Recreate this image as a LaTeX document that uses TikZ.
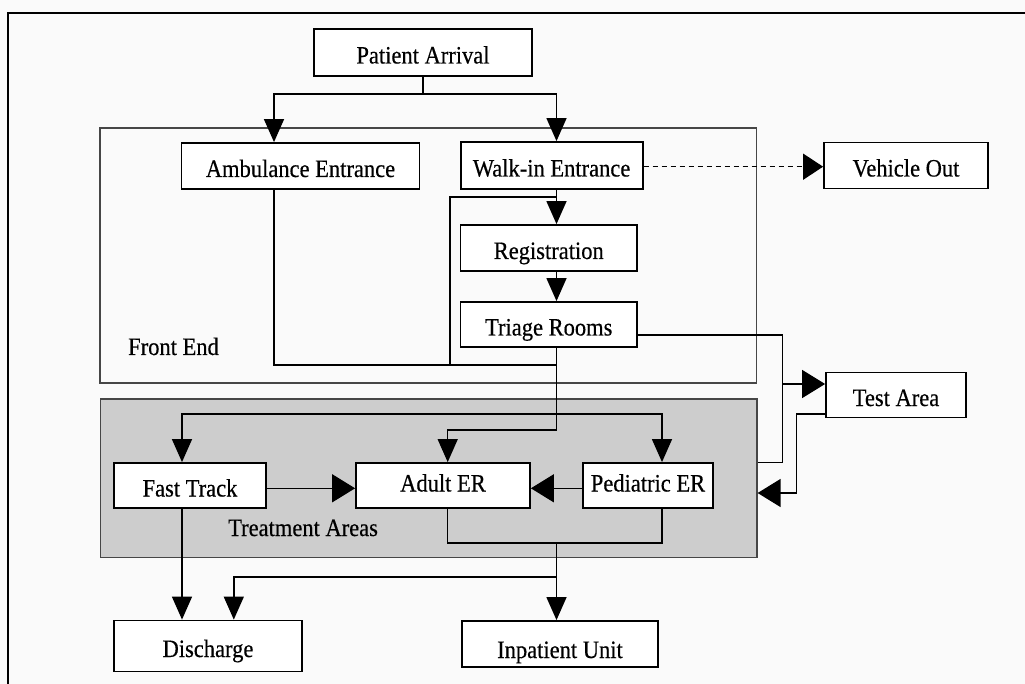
\documentclass[tikz,border=0pt]{standalone}
\usepackage{fontspec}
\setmainfont[FakeStretch=0.9,FakeBold=0.4]{Liberation Serif}
\usetikzlibrary{arrows.meta}
\definecolor{paper}{RGB}{250,250,250}
\definecolor{zonegray}{RGB}{205,205,205}
\definecolor{zoneline}{RGB}{70,70,70}
\begin{document}
\begin{tikzpicture}[x=1pt,y=-1pt,
  txt/.style={font=\fontsize{25}{30}\selectfont},
  box/.style={txt, draw=black, line width=1.8pt, fill=white, inner sep=0pt,
    minimum height=46pt, text height=25pt, text depth=3pt},
  zone/.style={draw=zoneline, line width=1.3pt, inner sep=0pt},
  conn/.style={draw=black, line width=1.4pt},
  va/.style={-{Triangle[length=23pt,width=20pt]}},
  ha/.style={-{Triangle[length=23pt,width=28pt]}},
  hd/.style={-{Triangle[length=20pt,width=26pt]}, dash pattern=on 5pt off 4pt}]

% canvas and outer frame
\fill[paper] (0,0) rectangle (1025,684);
\useasboundingbox (0,0) rectangle (1025,684);
\draw[line width=2pt] (8,684) -- (8,13.5) -- (1025,13.5);

% zones
\node[zone, minimum width=656.5pt, minimum height=255pt] (front) at (428.25,255.5) {};
\node[zone, fill=zonegray, minimum width=656.6pt, minimum height=158.7pt] (treat) at (428.7,478.35) {};
\node[txt, anchor=base west, inner sep=0pt] (frontlbl) at (128,355) {Front End};
\node[txt, anchor=base west, inner sep=0pt] (treatlbl) at (228,536) {Treatment Areas};

% boxes
\node[box, minimum width=218pt, minimum height=47pt] (pa) at (423,52.5) {Patient Arrival};
\node[box, minimum width=238pt] (amb) at (300.5,166) {Ambulance Entrance};
\node[box, minimum width=182pt, minimum height=47pt] (walk) at (551.6,165.5) {Walk-in Entrance};
\node[box, minimum width=164pt] (vo) at (906,165.5) {Vehicle Out};
\node[box, minimum width=176.5pt] (reg) at (548.75,248) {Registration};
\node[box, minimum width=176.5pt, minimum height=45pt] (tri) at (548.75,324.5) {Triage Rooms};
\node[box, minimum width=140pt, minimum height=45pt] (test) at (896,395) {Test Area};
\node[box, minimum width=152.5pt, minimum height=45pt] (ft) at (190,485.5) {Fast Track};
\node[box, minimum width=174pt, minimum height=45pt, text height=17pt, text depth=5pt] (aer) at (443,485.5) {Adult ER};
\node[box, minimum width=130pt, minimum height=45pt, text height=17pt, text depth=5pt] (per) at (648,485.5) {Pediatric ER};
\node[box, minimum width=188pt, minimum height=51pt] (dis) at (208,646) {Discharge};
\node[box, minimum width=196pt, text height=30pt, text depth=2pt] (inp) at (560,644) {Inpatient Unit};

% routing lines
\coordinate (xa) at (274,0);
\coordinate (xs) at (556.5,0);
\coordinate (xl) at (450,0);
\coordinate (xr) at (782.7,0);
\coordinate (xt) at (796.7,0);
\coordinate (xf) at (182,0);
\coordinate (xd) at (233.8,0);
\coordinate (xe) at (447.7,0);
\coordinate (xp) at (662,0);
\coordinate (ysplit) at (0,94);
\coordinate (yv) at (0,166.7);
\coordinate (yloop) at (0,197);
\coordinate (ytr) at (0,335);
\coordinate (ymerge) at (0,365);
\coordinate (ytest) at (0,384);
\coordinate (ybus) at (0,414);
\coordinate (ytb) at (0,414);
\coordinate (yadult) at (0,430);
\coordinate (ytreat) at (0,462.7);
\coordinate (yh) at (0,488.3);
\coordinate (yret) at (0,493);
\coordinate (ybot) at (0,543);
\coordinate (ydis) at (0,577);

% arrival split
\draw[conn,va] (pa.south) |- (xa |- ysplit) -- (amb.north -| xa);
\draw[conn,va] (pa.south) |- (xs |- ysplit) -- (walk.north -| xs);
\draw[conn,hd] (walk.east |- yv) -- (vo.west |- yv);

% front end flow
\draw[conn,va] (walk.south -| xs) -- (reg.north -| xs);
\draw[conn,va] (reg.south -| xs) -- (tri.north -| xs);
\draw[conn] (amb.south -| xa) |- (xs |- ymerge);
\draw[conn] (xl |- ymerge) |- (xs |- yloop);

% into treatment areas
\draw[conn,va] (tri.south -| xs) |- (xe |- yadult) -- (aer.north -| xe);
\draw[conn,va] (xs |- ybus) -| (ft.north -| xf);
\draw[conn,va] (xs |- ybus) -| (per.north -| xp);
\draw[conn,ha] (ft.east |- yh) -- (aer.west |- yh);
\draw[conn,ha] (per.west |- yh) -- (aer.east |- yh);

% test area loop
\draw[conn] (tri.east |- ytr) -| (xr |- ytreat) -- (treat.east |- ytreat);
\draw[conn,ha] (xr |- ytest) -- (test.west |- ytest);
\draw[conn,ha] (test.west |- ytb) -| (xt |- yret) -- (treat.east |- yret);

% exits
\draw[conn] (aer.south -| xe) |- (xp |- ybot) -- (per.south -| xp);
\draw[conn,va] (xs |- ybot) -- (inp.north -| xs);
\draw[conn,va] (xs |- ydis) -| (dis.north -| xd);
\draw[conn,va] (ft.south -| xf) -- (dis.north -| xf);
\end{tikzpicture}
\end{document}
